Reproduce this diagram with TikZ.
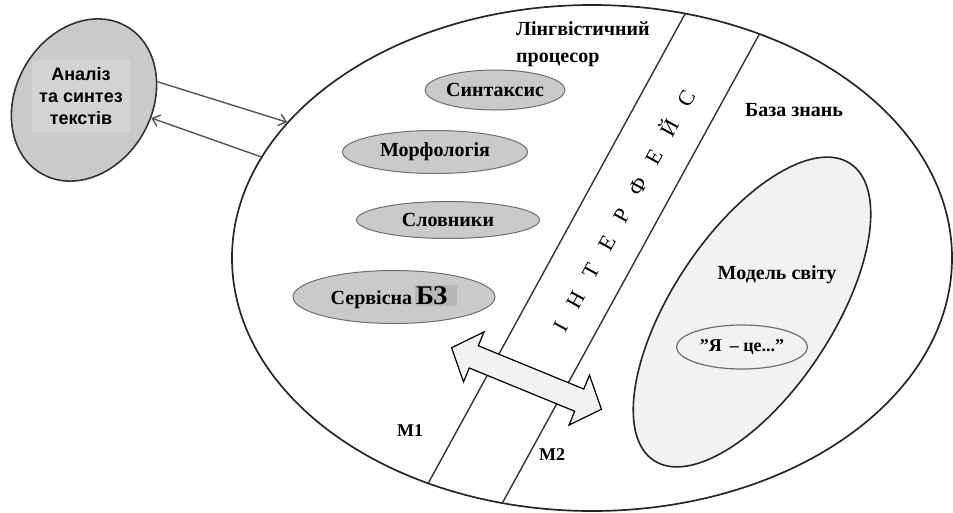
\documentclass[tikz,border=0pt]{standalone}
\usepackage{fontspec}
\setmainfont{Liberation Serif}
\newfontfamily\sansfnt{Liberation Sans}
\usetikzlibrary{shapes.geometric,arrows.meta}
\definecolor{ellgray}{HTML}{CACACA}
\definecolor{txtbox}{HTML}{D4D4D4}
\definecolor{ellborder}{HTML}{6E6E6E}
\definecolor{lightfill}{HTML}{F2F2F2}
\definecolor{arrgray}{HTML}{555555}
\definecolor{bzbox}{HTML}{B8B8B8}
\newcommand{\lsp}{\hspace{18.5pt}}
\newcommand{\sq}{\symbol{34}}
\begin{document}
\begin{tikzpicture}[x=1pt,y=-1pt,
  module/.style={ellipse, draw=ellborder, fill=ellgray, line width=1pt, inner sep=0pt,
     font=\fontsize{20}{24}\selectfont\bfseries},
  lbl/.style={font=\fontsize{20}{24}\selectfont\bfseries, inner sep=0pt},
  mlbl/.style={font=\fontsize{18}{20}\selectfont\bfseries, inner sep=0pt},
  link/.style={draw=arrgray, line width=1.4pt, -{Straight Barb[length=7pt,width=12pt]}},
  divider/.style={draw=black!80, line width=1.4pt},
]
\useasboundingbox (0,0) rectangle (953,512);
% main ellipse
\node[ellipse, draw=black!85, line width=1.7pt, minimum width=720pt, minimum height=506pt,
      inner sep=0pt] (big) at (592,258) {};
\begin{scope}
  \clip (592,258) ellipse [x radius=360pt, y radius=253pt];
  \draw[divider] (710.5,-32.6) -- (404.5,526.6);
  \draw[divider] (785.6,-13.7) -- (478.4,546.7);
\end{scope}
% model of the world
\node[ellipse, draw=black!85, fill=lightfill, line width=1.6pt, minimum width=356pt,
      minimum height=160pt, inner sep=0pt, rotate=56.5] (world) at (752,312) {};
% left source ellipse
\node[ellipse, draw=black!80, fill=ellgray, line width=1.6pt, minimum width=170pt,
      minimum height=136pt, inner sep=0pt, rotate=60] (atsbg) at (84,100) {};
\node[fill=txtbox, inner sep=0pt, minimum width=98pt, minimum height=72pt] (atsbox) at (81,96) {};
\node[align=center, font=\sansfnt\fontsize{18}{22}\selectfont\bfseries, inner sep=0pt]
   (ats) at (81,96) {Аналіз\\та синтез\\текстів};
% links
\draw[link] (atsbg.-46) -- (big.156);
\draw[link] (big.163) -- (atsbg.-75);
% modules
\node[module, minimum width=140pt, minimum height=40pt] (syn) at (495,90) {Синтаксис};
\node[module, minimum width=185pt, minimum height=43pt] (mor) at (435,152) {Морфологія};
\node[module, minimum width=183pt, minimum height=37pt] (dic) at (448,220) {Словники};
\node[module, minimum width=202pt, minimum height=53pt] (srv) at (394,297) {Сервісна\hspace{3pt}%
  \setlength{\fboxsep}{1pt}\colorbox{bzbox}{\fontsize{27}{28}\selectfont Б\kern-1ptЗ\hspace{9pt}}};
% "I am ..." ellipse
\node[ellipse, draw=ellborder, fill=lightfill, line width=1.2pt, minimum width=131pt,
      minimum height=44pt, inner sep=0pt, font=\fontsize{18}{22}\selectfont\bfseries]
      (ya) at (742,347) {\sq Я\hspace{8pt}– це...\sq};
% double arrow between M1 and M2
\begin{scope}[shift={(526.5,378.5)}, rotate=-22.3]
  \draw[fill=lightfill, line width=1.2pt, line join=miter]
    (-81,0) -- (-57,27) -- (-57,12) -- (57,12) -- (57,27) -- (81,0)
    -- (57,-27) -- (57,-12) -- (-57,-12) -- (-57,-27) -- cycle;
\end{scope}
% labels
\node[lbl, align=left, anchor=north west, font=\fontsize{20}{27}\selectfont\bfseries]
   (lp) at (516,21) {Лінгвістичний\\процесор};
\node[lbl] (kb) at (794,110) {База знань};
\node[lbl] (wm) at (777,275) {Модель світу};
\node[rotate=61.3, font=\fontsize{22}{24}\selectfont, inner sep=0pt] (intf) at (623,210)
   {І\lsp Н\lsp Т\lsp Е\lsp Р\lsp Ф\lsp Е\lsp Й\lsp С};
\node[mlbl] (m1) at (410,431) {M1};
\node[mlbl] (m2) at (552,455) {M2};
\end{tikzpicture}
\end{document}
